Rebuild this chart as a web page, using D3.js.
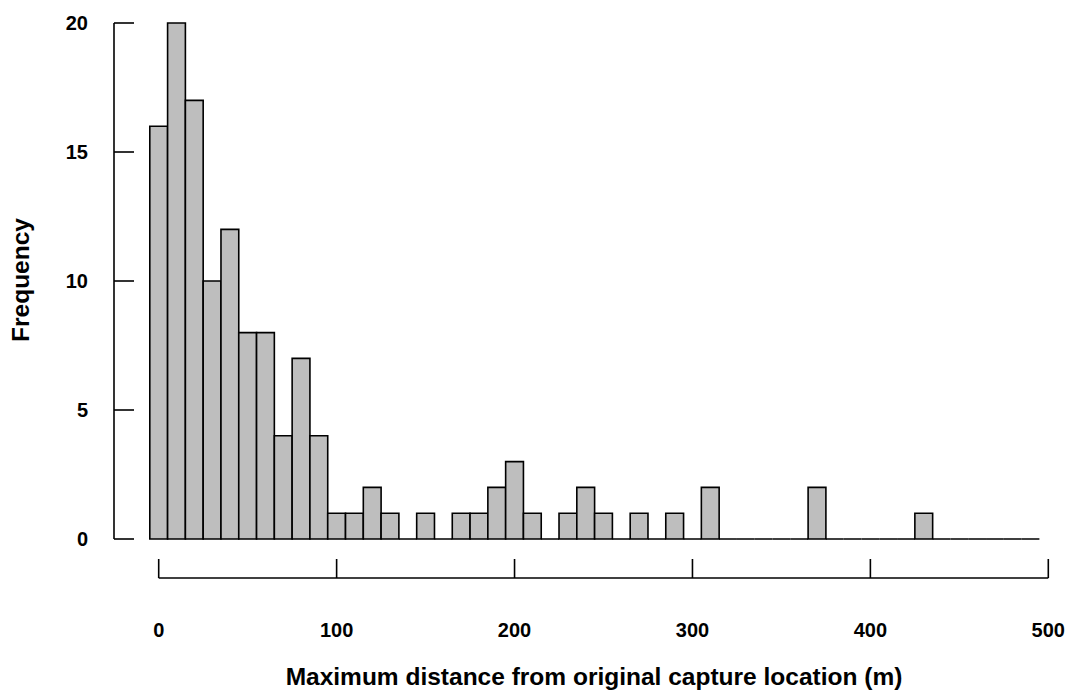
<!DOCTYPE html>
<html>
<head>
<meta charset="utf-8">
<script src="https://cdn.jsdelivr.net/npm/d3@7"></script>
<style>
  body { margin: 0; background: #fff; }
  svg text { font-family: "Liberation Sans", Arial, sans-serif; font-weight: bold; fill: #000; }
</style>
</head>
<body>
<script>
// histogram counts, bins of width 10 starting at -5
const binStart = -5;
const binWidth = 10;
const counts = [16, 20, 17, 10, 12, 8, 8, 4, 7, 4,
                1, 1, 2, 1, 0, 1, 0, 1, 1, 2,
                3, 1, 0, 1, 2, 1, 0, 1, 0, 1,
                0, 2, 0, 0, 0, 0, 0, 2, 0, 0,
                0, 0, 0, 1, 0, 0, 0, 0, 0, 0];
const xTicks = [0, 100, 200, 300, 400, 500];
const yTicks = [0, 5, 10, 15, 20];
const xTitle = "Maximum distance from original capture location (m)";
const yTitle = "Frequency";

const width = 1067, height = 690;

const svg = d3.select("body").append("svg")
    .attr("width", width)
    .attr("height", height);

const x = d3.scaleLinear().domain([0, 500]).range([158.7, 1048.3]);
const y = d3.scaleLinear().domain([0, 20]).range([539, 23]);

const bins = counts.map((c, i) => ({
    x0: binStart + i * binWidth,
    x1: binStart + (i + 1) * binWidth,
    count: c
}));

// bars (paths so that empty bins still draw a line)
svg.append("g")
    .selectAll("path")
    .data(bins)
    .enter()
    .append("path")
    .attr("d", d => {
        const l = x(d.x0), r = x(d.x1), b = y(0), t = y(d.count);
        return `M${l},${b}V${t}H${r}V${b}Z`;
    })
    .attr("fill", "#bebebe")
    .attr("stroke", "#000")
    .attr("stroke-width", 1.6);

// y axis: ticks point inward
const yAxis = svg.append("g").attr("transform", "translate(114,0)");
yAxis.append("line")
    .attr("x1", 0).attr("x2", 0)
    .attr("y1", y(20)).attr("y2", y(0))
    .attr("stroke", "#000").attr("stroke-width", 1.6);
yAxis.selectAll(".tick")
    .data(yTicks)
    .enter()
    .append("line")
    .attr("x1", 0).attr("x2", 20)
    .attr("y1", d => y(d)).attr("y2", d => y(d))
    .attr("stroke", "#000").attr("stroke-width", 1.6);
yAxis.selectAll("text")
    .data(yTicks)
    .enter()
    .append("text")
    .attr("x", -26)
    .attr("y", d => y(d))
    .attr("dy", "0.36em")
    .attr("text-anchor", "end")
    .style("font-size", "20px")
    .text(d => d);

// x axis: ticks point up
const xAxis = svg.append("g").attr("transform", "translate(0,578)");
xAxis.append("line")
    .attr("x1", x(0)).attr("x2", x(500))
    .attr("y1", 0).attr("y2", 0)
    .attr("stroke", "#000").attr("stroke-width", 1.6);
xAxis.selectAll(".tick")
    .data(xTicks)
    .enter()
    .append("line")
    .attr("x1", d => x(d)).attr("x2", d => x(d))
    .attr("y1", 0).attr("y2", -19)
    .attr("stroke", "#000").attr("stroke-width", 1.6);
xAxis.selectAll("text")
    .data(xTicks)
    .enter()
    .append("text")
    .attr("x", d => x(d))
    .attr("y", 59)
    .attr("text-anchor", "middle")
    .style("font-size", "20px")
    .text(d => d);

// axis titles
svg.append("text")
    .attr("x", 594)
    .attr("y", 685)
    .attr("text-anchor", "middle")
    .style("font-size", "24.5px")
    .text(xTitle);

svg.append("text")
    .attr("transform", "translate(29,280) rotate(-90)")
    .attr("text-anchor", "middle")
    .style("font-size", "24.5px")
    .text(yTitle);
</script>
</body>
</html>
